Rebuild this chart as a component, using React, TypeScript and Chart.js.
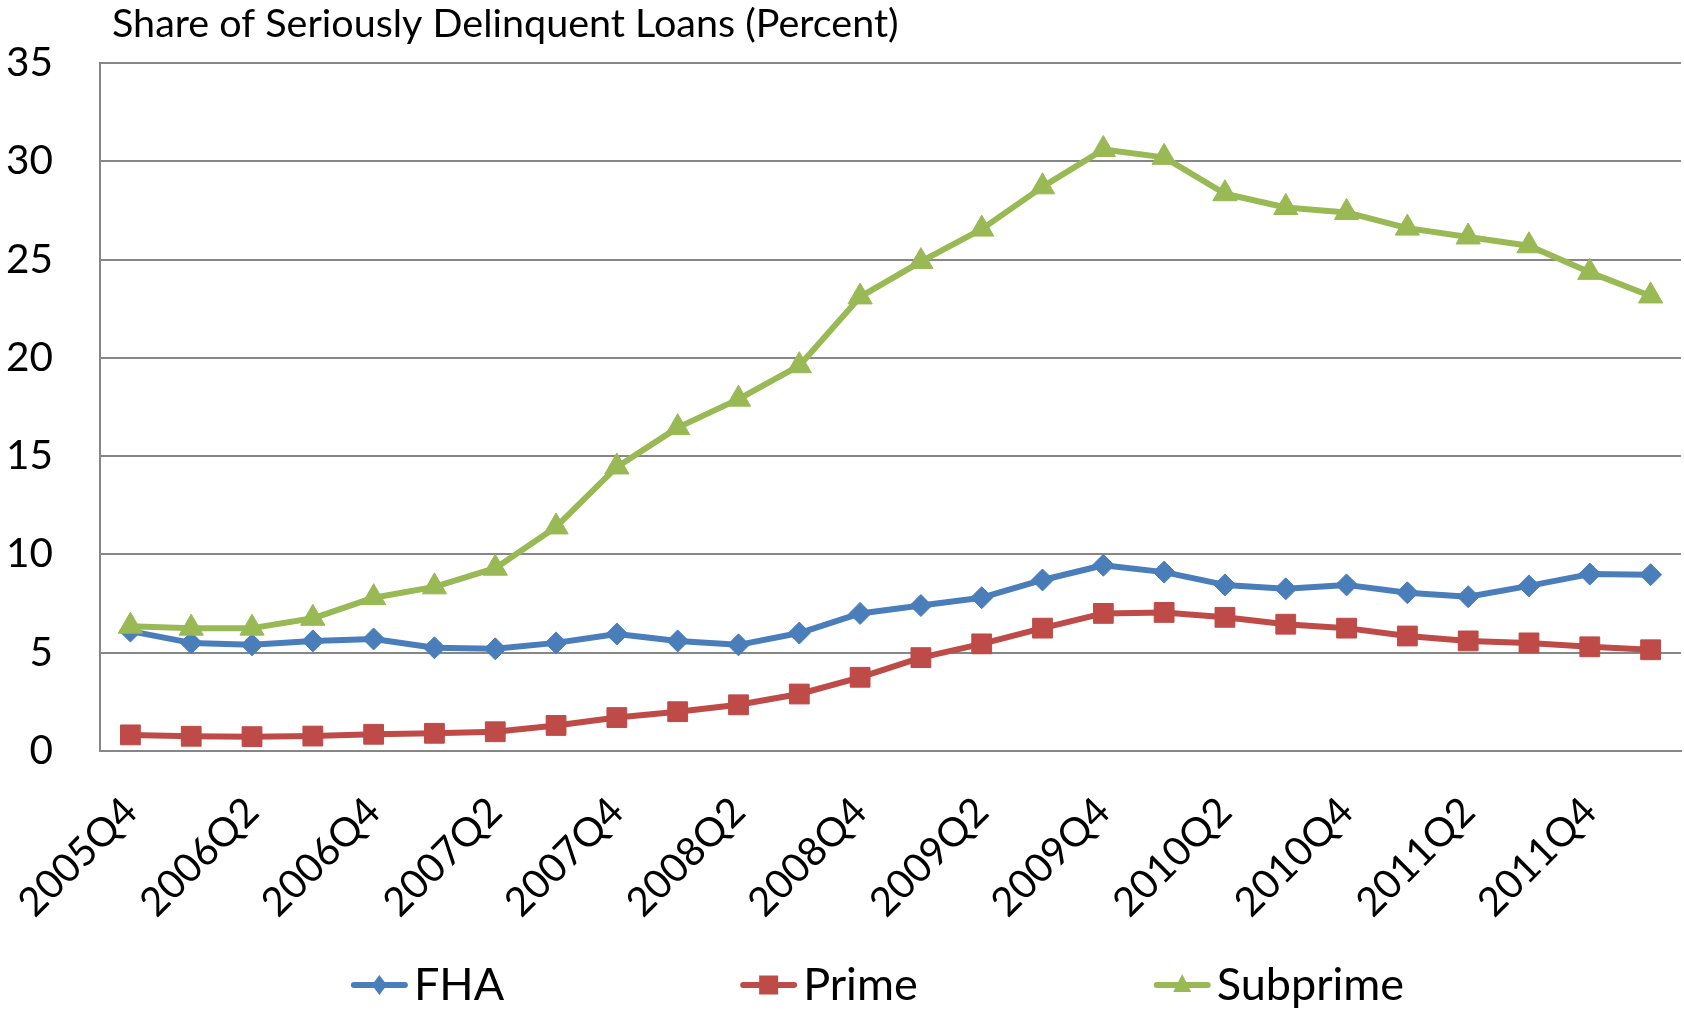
import React, { useEffect, useRef } from 'react';
import { Chart, registerables } from 'chart.js';

Chart.register(...registerables);

const FONT = 'Lato, "Open Sans", sans-serif';

const quarters = [
  '2005Q4', '2006Q1', '2006Q2', '2006Q3', '2006Q4', '2007Q1', '2007Q2', '2007Q3', '2007Q4',
  '2008Q1', '2008Q2', '2008Q3', '2008Q4', '2009Q1', '2009Q2', '2009Q3', '2009Q4',
  '2010Q1', '2010Q2', '2010Q3', '2010Q4', '2011Q1', '2011Q2', '2011Q3', '2011Q4', '2012Q1',
];

const fha = [6.1, 5.5, 5.4, 5.6, 5.7, 5.25, 5.2, 5.5, 5.95, 5.6, 5.4, 6.0, 7.0, 7.4, 7.8, 8.7, 9.45, 9.1, 8.45, 8.25, 8.45, 8.05, 7.85, 8.4, 9.0, 8.97];
const prime = [0.82, 0.75, 0.73, 0.76, 0.85, 0.9, 0.98, 1.3, 1.7, 2.0, 2.35, 2.9, 3.75, 4.75, 5.45, 6.25, 7.0, 7.05, 6.8, 6.45, 6.25, 5.85, 5.6, 5.5, 5.3, 5.15];
const subprime = [6.35, 6.25, 6.25, 6.75, 7.8, 8.35, 9.3, 11.4, 14.45, 16.45, 17.9, 19.6, 23.1, 24.9, 26.55, 28.7, 30.6, 30.2, 28.35, 27.65, 27.4, 26.6, 26.15, 25.7, 24.35, 23.15];

const seriesNames = ['FHA', 'Prime', 'Subprime'];
const seriesColors = ['#4A7EBB', '#BE4B48', '#98B954'];
const seriesMarkers = ['rectRot', 'rect', 'triangle'];

const yMin = 0;
const yMax = 35;
const yStep = 5;

const titleText = 'Share of Seriously Delinquent Loans (Percent)';

function drawLegendMarker(ctx: CanvasRenderingContext2D, style: string, x: number, y: number, color: string) {
  ctx.fillStyle = color;
  ctx.beginPath();
  if (style === 'rectRot') {
    ctx.moveTo(x, y - 10);
    ctx.lineTo(x + 7.5, y);
    ctx.lineTo(x, y + 10);
    ctx.lineTo(x - 7.5, y);
  } else if (style === 'rect') {
    ctx.rect(x - 9.5, y - 9.5, 19, 19);
  } else {
    ctx.moveTo(x, y - 11);
    ctx.lineTo(x + 9, y + 7);
    ctx.lineTo(x - 9, y + 7);
  }
  ctx.closePath();
  ctx.fill();
}

const titlePlugin = {
  id: 'cornerTitle',
  afterDraw(chart: any) {
    const ctx = chart.ctx as CanvasRenderingContext2D;
    ctx.save();
    ctx.font = `39.5px ${FONT}`;
    ctx.fillStyle = '#000000';
    ctx.textAlign = 'left';
    ctx.textBaseline = 'alphabetic';
    ctx.fillText(titleText, chart.chartArea.left + 12, 37);
    ctx.restore();
  },
};

const legendPlugin = {
  id: 'lineLegend',
  afterDraw(chart: any) {
    const ctx = chart.ctx as CanvasRenderingContext2D;
    ctx.save();
    ctx.font = `45px ${FONT}`;
    const lineLen = 57;
    const textGap = 6;
    const itemGap = 236;
    const datasets = chart.data.datasets;
    const widths = datasets.map((ds: any) => ctx.measureText(ds.label).width);
    const total = widths.reduce((s: number, w: number) => s + lineLen + textGap + w, 0) + itemGap * (datasets.length - 1);
    const center = (chart.chartArea.left + chart.chartArea.right) / 2 - 13;
    let x = center - total / 2;
    const y = 985;
    datasets.forEach((ds: any, i: number) => {
      ctx.strokeStyle = ds.borderColor;
      ctx.lineWidth = 6;
      ctx.lineCap = 'round';
      ctx.beginPath();
      ctx.moveTo(x + 3, y);
      ctx.lineTo(x + lineLen - 3, y);
      ctx.stroke();
      drawLegendMarker(ctx, ds.pointStyle, x + lineLen / 2, y, ds.borderColor);
      ctx.fillStyle = '#000000';
      ctx.textAlign = 'left';
      ctx.textBaseline = 'alphabetic';
      ctx.fillText(ds.label, x + lineLen + textGap, y + 15);
      x += lineLen + textGap + widths[i] + itemGap;
    });
    ctx.restore();
  },
};

export default function App() {
  const canvasRef = useRef<HTMLCanvasElement | null>(null);

  useEffect(() => {
    const canvas = canvasRef.current;
    if (!canvas) return;
    const seriesData = [fha, prime, subprime];
    const radii = [11, 14, 14];
    const chart = new Chart(canvas, {
      type: 'line',
      data: {
        labels: quarters,
        datasets: seriesData.map((d, i) => ({
          label: seriesNames[i],
          data: d,
          borderColor: seriesColors[i],
          backgroundColor: seriesColors[i],
          pointBackgroundColor: seriesColors[i],
          pointBorderColor: seriesColors[i],
          pointBorderWidth: 1,
          pointStyle: seriesMarkers[i] as any,
          pointRadius: radii[i],
          borderWidth: 6,
          borderJoinStyle: 'round' as const,
          borderCapStyle: 'round' as const,
          tension: 0,
          fill: false,
          order: 2 - i,
        })),
      },
      options: {
        responsive: false,
        animation: false,
        events: [],
        layout: { autoPadding: false, padding: { top: 63, right: 3, bottom: 0, left: 0 } },
        plugins: {
          legend: { display: false },
          title: { display: false },
          tooltip: { enabled: false },
        },
        scales: {
          x: {
            type: 'category',
            offset: true,
            grid: { display: false, drawTicks: false },
            border: { display: true, color: '#868686', width: 2 },
            ticks: {
              autoSkip: false,
              minRotation: 45,
              maxRotation: 45,
              padding: 37,
              color: '#000000',
              font: { family: FONT, size: 40 },
              callback: (_v: any, i: number) => (i % 2 === 0 ? quarters[i] : ''),
            },
            afterFit: (scale: any) => {
              scale.height = 262;
              scale.paddingLeft = 0;
              scale.paddingRight = 0;
            },
          },
          y: {
            min: yMin,
            max: yMax,
            ticks: {
              stepSize: yStep,
              padding: 47,
              color: '#000000',
              font: { family: FONT, size: 40.5 },
            },
            grid: { color: '#868686', lineWidth: 2, drawTicks: false },
            border: { display: true, color: '#868686', width: 2 },
            afterFit: (scale: any) => {
              scale.width = 100;
              scale.paddingTop = 0;
              scale.paddingBottom = 0;
            },
          },
        },
      },
      plugins: [titlePlugin, legendPlugin],
    });
    return () => chart.destroy();
  }, []);

  return (
    <div style={{ position: 'fixed', left: 0, top: 0, width: 1684, height: 1013, background: '#ffffff' }}>
      <canvas ref={canvasRef} width={1684} height={1013} style={{ width: 1684, height: 1013, display: 'block' }} />
    </div>
  );
}
